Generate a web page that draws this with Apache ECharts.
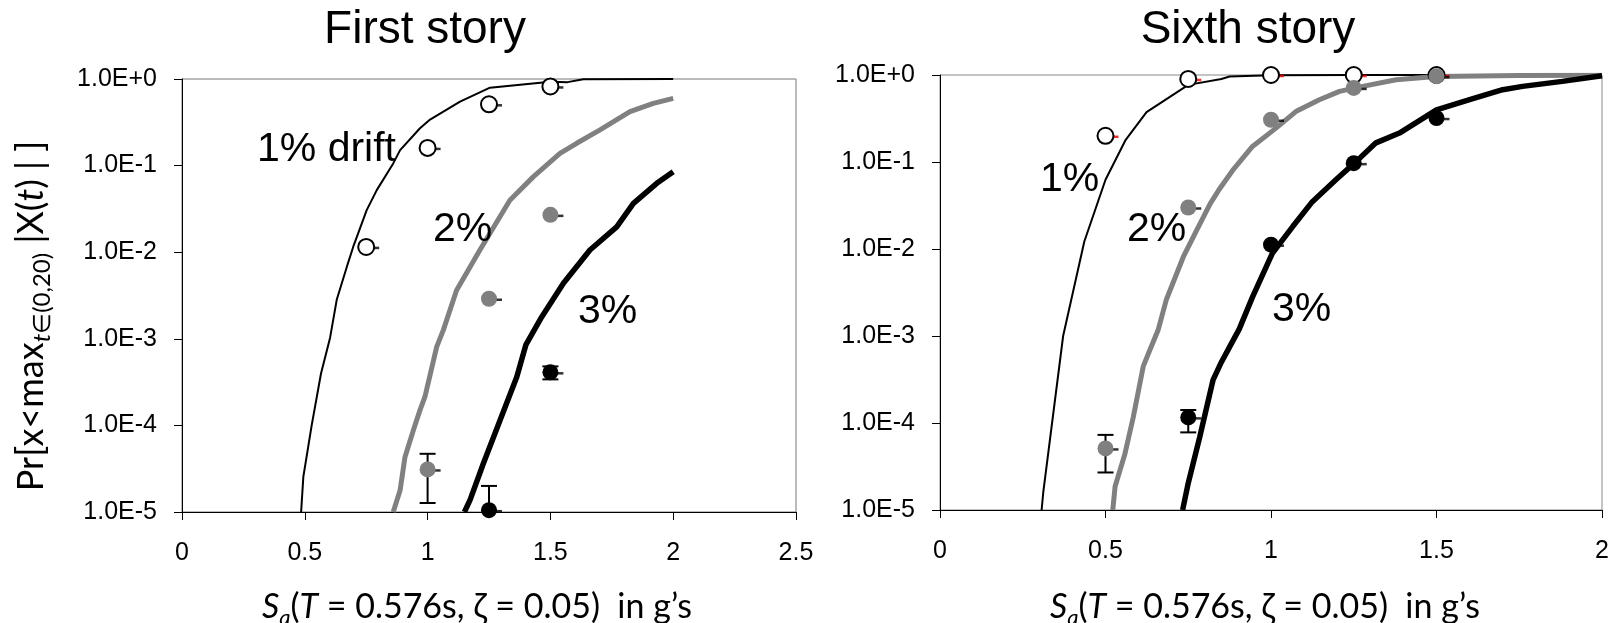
<!DOCTYPE html>
<html>
<head>
<meta charset="utf-8">
<script src="https://cdn.jsdelivr.net/npm/echarts@6/dist/echarts.min.js"></script>
<style>
  html, body { margin: 0; padding: 0; background: #fff; }
  #chart { width: 1616px; height: 623px; }
</style>
</head>
<body>
<div id="chart"></div>
<script>
// ---------- DATA ----------
const panelTitles = ['First story', 'Sixth story'];
const xTicksFirst = [0, 0.5, 1, 1.5, 2, 2.5];
const xTicksSixth = [0, 0.5, 1, 1.5, 2];

// First story: fitted curves [Sa, probability]
const first1Curve = [[0.485,1e-5],[0.494,2.54e-5],[0.528,1e-4],[0.566,3.98e-4],[0.603,1.03e-3],[0.63,2.82e-3],
  [0.671,6.76e-3],[0.697,1.15e-2],[0.752,0.0306],[0.793,0.0521],[0.86,0.106],[0.888,0.151],[0.969,0.27],
  [1.01,0.34],[1.132,0.547],[1.254,0.794],[1.5,0.93],[1.57,0.92],[1.634,0.993],[2.0,1.0]];
const first2Curve = [[0.86,1e-5],[0.888,1.78e-5],[0.908,4.33e-5],[0.942,8.8e-5],[0.969,1.5e-4],[0.989,2.13e-4],
  [1.037,8.07e-4],[1.064,1.26e-3],[1.118,3.63e-3],[1.213,0.0106],[1.335,0.0398],[1.43,0.0741],[1.539,0.138],
  [1.607,0.181],[1.702,0.258],[1.824,0.419],[1.919,0.524],[2.0,0.598]];
const first3Curve = [[1.15,1e-5],[1.173,1.38e-5],[1.227,3.63e-5],[1.295,1.15e-4],[1.363,3.63e-4],[1.40,8.5e-4],
  [1.46,1.7e-3],[1.553,4.37e-3],[1.661,0.0106],[1.77,0.0196],[1.838,0.0366],[1.933,0.0624],[2.0,0.085]];
// First story: simulated points
const first1Pts = [[0.75,0.0115],[1.0,0.16],[1.25,0.51],[1.5,0.82]];
const first2Pts = [[1.0,3.1e-5],[1.25,2.9e-3],[1.5,0.027]];
const first3Pts = [[1.25,1.05e-5],[1.5,4.1e-4]];
// error bars [Sa, low, high]
const firstErr = [[1.0,1.27e-5,4.7e-5],[1.25,1.05e-5,2.0e-5],[1.5,3.4e-4,4.8e-4]];

// Sixth story: fitted curves
const sixth1Curve = [[0.307,1e-5],[0.312,1.6e-5],[0.372,1e-3],[0.436,0.0122],[0.5,0.0625],[0.561,0.18],
  [0.624,0.375],[0.75,0.77],[0.85,0.9],[0.875,0.96],[1.0,0.995],[1.25,1.0],[1.5,1.0],[2.0,1.0]];
const sixth2Curve = [[0.522,1e-5],[0.529,1.86e-5],[0.559,4.47e-5],[0.584,1.17e-4],[0.614,4.47e-4],[0.634,6.9e-4],
  [0.659,1.17e-3],[0.684,2.63e-3],[0.735,8.1e-3],[0.776,0.0166],[0.816,0.033],[0.846,0.05],[0.884,0.08],
  [0.944,0.151],[1.015,0.245],[1.075,0.38],[1.146,0.52],[1.207,0.649],[1.277,0.74],[1.378,0.883],[1.498,0.964],
  [1.75,0.985],[2.0,0.995]];
const sixth3Curve = [[0.733,1e-5],[0.75,2.04e-5],[0.785,6.97e-5],[0.825,3.13e-4],[0.85,5e-4],[0.875,7.5e-4],
  [0.904,1.2e-3],[0.944,2.8e-3],[1.004,8.9e-3],[1.065,0.018],[1.125,0.035],[1.196,0.0625],[1.257,0.101],
  [1.317,0.166],[1.388,0.215],[1.5,0.398],[1.6,0.52],[1.7,0.678],[1.76,0.74],[1.88,0.845],[2.0,0.98]];
const sixth1Pts = [[0.5,0.20],[0.75,0.90],[1.0,1.0],[1.25,1.0],[1.5,1.0]];
const sixth2Pts = [[0.5,5.1e-5],[0.75,0.030],[1.0,0.306],[1.25,0.71],[1.5,0.97]];
const sixth3Pts = [[0.75,1.16e-4],[1.0,0.0112],[1.25,0.097],[1.5,0.32]];
const sixthErr = [[0.5,2.7e-5,7.3e-5],[0.75,7.8e-5,1.41e-4]];

const curveLabels = [
  {text:'1% drift', x:257, y:150}, {text:'2%', x:433, y:230}, {text:'3%', x:578, y:312},
  {text:'1%', x:1040, y:180}, {text:'2%', x:1127, y:230}, {text:'3%', x:1272, y:310}
];

// ---------- CHART ----------
const FONT = 'Liberation Sans, Arial, sans-serif';
const LFONT = 'Lato, sans-serif';
const GRAY = '#808080';

function expLabel(v) {
  const e = Math.round(Math.log10(v));
  return '1.0E' + (e >= 0 ? '+' + e : String(e));
}

function makeX(idx, max) {
  return {
    type: 'value', gridIndex: idx, min: 0, max: max, interval: 0.5,
    axisLine: { show: true, onZero: false, lineStyle: { color: '#000', width: 1 } },
    axisTick: { show: true, inside: false, length: 8, lineStyle: { color: '#000' } },
    splitLine: { show: false },
    axisLabel: { fontFamily: FONT, fontSize: 25, color: '#000', margin: 29 }
  };
}
function makeY(idx) {
  return {
    type: 'log', logBase: 10, gridIndex: idx, min: 1e-5, max: 1,
    axisLine: { show: true, lineStyle: { color: '#000', width: 1 } },
    axisTick: { show: true, inside: false, length: 8, lineStyle: { color: '#000' } },
    minorTick: { show: false },
    splitLine: { show: false },
    axisLabel: { fontFamily: FONT, fontSize: 25, color: '#000', margin: 25, formatter: expLabel }
  };
}

function lineSeries(data, gi, color, width) {
  return { type: 'line', xAxisIndex: gi, yAxisIndex: gi, data: data, showSymbol: false, symbol: 'none',
    lineStyle: { color: color, width: width }, z: 2, animation: false, clip: true };
}
function ptSeries(data, gi, fill, border, tickColor) {
  return [
    { type: 'scatter', xAxisIndex: gi, yAxisIndex: gi, data: data, symbol: 'rect', symbolSize: [6, 2.5],
      symbolOffset: [10, 1], itemStyle: { color: tickColor }, z: 4, animation: false },
    { type: 'scatter', xAxisIndex: gi, yAxisIndex: gi, data: data, symbol: 'circle', symbolSize: 16,
      itemStyle: { color: fill, borderColor: border, borderWidth: border === fill ? 0 : 2, opacity: 1 }, z: 5, animation: false }
  ];
}
function errSeries(data, gi) {
  return { type: 'custom', xAxisIndex: gi, yAxisIndex: gi, data: data, z: 3, animation: false, clip: true,
    renderItem: function (params, api) {
      const lo = api.coord([api.value(0), api.value(1)]);
      const hi = api.coord([api.value(0), api.value(2)]);
      const w = 8, st = { stroke: '#000', lineWidth: 2 };
      return { type: 'group', children: [
        { type: 'line', shape: { x1: lo[0], y1: lo[1], x2: hi[0], y2: hi[1] }, style: st },
        { type: 'line', shape: { x1: lo[0] - w, y1: lo[1], x2: lo[0] + w, y2: lo[1] }, style: st },
        { type: 'line', shape: { x1: hi[0] - w, y1: hi[1], x2: hi[0] + w, y2: hi[1] }, style: st }
      ] };
    } };
}

const series = [].concat(
  [lineSeries(first1Curve, 0, '#000', 2), lineSeries(first2Curve, 0, GRAY, 5), lineSeries(first3Curve, 0, '#000', 5.5)],
  [errSeries(firstErr, 0)],
  ptSeries(first1Pts, 0, '#fff', '#000', '#000'),
  ptSeries(first2Pts, 0, GRAY, GRAY, '#000'),
  ptSeries(first3Pts, 0, '#000', '#000', '#000'),
  [lineSeries(sixth1Curve, 1, '#000', 2), lineSeries(sixth2Curve, 1, GRAY, 5), lineSeries(sixth3Curve, 1, '#000', 5.5)],
  [errSeries(sixthErr, 1)],
  ptSeries(sixth1Pts, 1, '#fff', '#000', '#e00000'),
  ptSeries(sixth2Pts, 1, GRAY, GRAY, '#000'),
  ptSeries(sixth3Pts, 1, '#000', '#000', '#000')
);

const graphics = [
  { type: 'text', x: 425, y: 30, style: { text: panelTitles[0], font: '46px ' + FONT, fill: '#000', align: 'center', verticalAlign: 'middle' } },
  { type: 'text', x: 1248, y: 30, style: { text: panelTitles[1], font: '46px ' + FONT, fill: '#000', align: 'center', verticalAlign: 'middle' } }
];
curveLabels.forEach(function (l) {
  graphics.push({ type: 'text', x: l.x, y: l.y, z: 10, style: { text: l.text, font: '41px ' + FONT, fill: '#000', align: 'left', verticalAlign: 'middle' } });
});
const xRich = {
  n: { fontFamily: LFONT, fontSize: 34, lineHeight: 44, verticalAlign: 'middle' },
  i: { fontFamily: LFONT, fontSize: 34, fontStyle: 'italic', lineHeight: 44, verticalAlign: 'middle' },
  sub: { fontFamily: LFONT, fontSize: 22, fontStyle: 'italic', lineHeight: 44, verticalAlign: 'bottom' }
};
const xLabelText = '{i|S}{sub|a}{n|(}{i|T}{n| = 0.576s, ζ = 0.05)  in g’s}';
[477, 1265].forEach(function (cx) {
  graphics.push({ type: 'text', x: cx, y: 607, style: { text: xLabelText, rich: xRich, align: 'center', verticalAlign: 'middle', fill: '#000' } });
});
const yRich = {
  n: { fontFamily: LFONT, fontSize: 36, lineHeight: 46, verticalAlign: 'middle' },
  i: { fontFamily: LFONT, fontSize: 36, fontStyle: 'italic', lineHeight: 46, verticalAlign: 'middle' },
  sub: { fontFamily: LFONT, fontSize: 24, lineHeight: 46, verticalAlign: 'bottom' },
  subi: { fontFamily: LFONT, fontSize: 24, fontStyle: 'italic', lineHeight: 46, verticalAlign: 'bottom' }
};
graphics.push({ type: 'text', x: 31, y: 316, rotation: Math.PI / 2,
  style: { text: '{n|Pr[x<max}{subi|t}{sub|∈(0,20)}{n| |X(}{i|t}{n|) | ]}', rich: yRich, align: 'center', verticalAlign: 'middle', fill: '#000' } });

const chart = echarts.init(document.getElementById('chart'), null, { renderer: 'canvas' });
chart.setOption({
  animation: false,
  backgroundColor: '#fff',
  grid: [
    { left: 182, top: 79, width: 614, height: 433, show: true, borderColor: '#777', borderWidth: 1, backgroundColor: 'transparent' },
    { left: 940, top: 75, width: 662, height: 435, show: true, borderColor: '#888', borderWidth: 1, backgroundColor: 'transparent' }
  ],
  xAxis: [makeX(0, 2.5), makeX(1, 2)],
  yAxis: [makeY(0), makeY(1)],
  series: series,
  graphic: graphics
});
</script>
</body>
</html>
